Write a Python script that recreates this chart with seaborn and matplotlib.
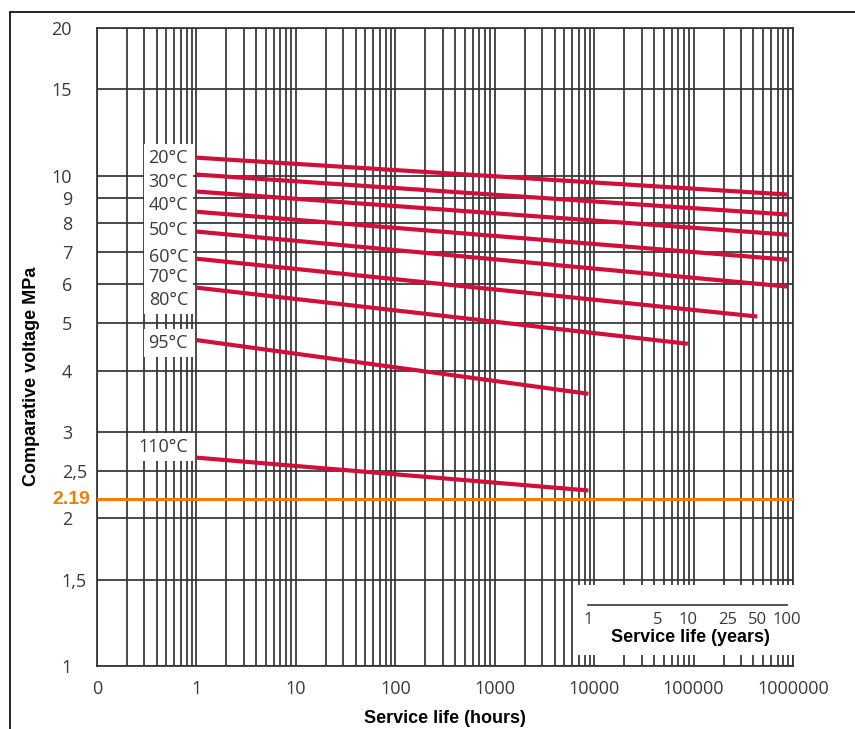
import matplotlib
matplotlib.use("Agg")
import matplotlib.pyplot as plt
import seaborn as sns
import pandas as pd
import numpy as np
from matplotlib.ticker import FixedLocator, NullLocator, LogLocator, NullFormatter
from matplotlib.patches import Rectangle
from matplotlib.lines import Line2D
from matplotlib.font_manager import FontProperties

# ---------------- data ----------------
temps = ["20°C", "30°C", "40°C", "50°C", "60°C", "70°C", "80°C", "95°C", "110°C"]
start_hours = [1, 1, 1, 1, 1, 1, 1, 1, 1]
end_hours = [876000, 876000, 876000, 876000, 876000, 438000, 87600, 8760, 8760]
start_mpa = [10.88, 10.05, 9.28, 8.44, 7.69, 6.77, 5.91, 4.62, 2.66]
end_mpa = [9.15, 8.33, 7.58, 6.74, 5.94, 5.16, 4.54, 3.59, 2.28]
label_mpa = [10.88, 9.72, 8.73, 7.76, 6.83, 6.22, 5.58, 4.56, 2.80]

reference_mpa = 2.19
reference_label = "2.19"

x_ticks = [0.1, 1, 10, 100, 1000, 10000, 100000, 1000000]
x_tick_labels = ["0", "1", "10", "100", "1000", "10000", "100000", "1000000"]
y_ticks = [1, 1.5, 2, 2.5, 3, 4, 5, 6, 7, 8, 9, 10, 15, 20]
y_tick_labels = ["1", "1,5", "2", "2,5", "3", "4", "5", "6", "7", "8", "9", "10", "15", "20"]
year_ticks = [1, 5, 10, 25, 50, 100]
year_tick_labels = ["1", "5", "10", "25", "50", "100"]
hours_per_year = 8760

# ---------------- style ----------------
sns.set_theme(style="white")
plt.rcParams["font.family"] = ["Open Sans", "DejaVu Sans"]

RED = "#d0103a"
ORANGE = "#f08000"
GRID = "#333333"
TXT = "#3a3a3a"
W, H = 855, 729

fig = plt.figure(figsize=(W / 100, H / 100), dpi=100)
fig.patch.set_facecolor("white")
ax = fig.add_axes([97 / W, 1 - 666 / H, 696 / W, 638 / H])

rows = []
for t, sh, eh, sm, em in zip(temps, start_hours, end_hours, start_mpa, end_mpa):
    rows.append({"temp": t, "hours": sh, "mpa": sm})
    rows.append({"temp": t, "hours": eh, "mpa": em})
df = pd.DataFrame(rows)

sns.lineplot(data=df, x="hours", y="mpa", hue="temp", palette=[RED] * len(temps),
             legend=False, ax=ax, linewidth=3.0, zorder=4, solid_capstyle="butt")

ax.set_xscale("log")
ax.set_yscale("log")
ax.set_xlim(0.1, 1e6)
ax.set_ylim(1, 20)

ax.xaxis.set_major_locator(FixedLocator(x_ticks))
ax.set_xticklabels(x_tick_labels)
ax.xaxis.set_minor_locator(LogLocator(base=10, subs=np.arange(2, 10)))
ax.xaxis.set_minor_formatter(NullFormatter())
ax.yaxis.set_major_locator(FixedLocator(y_ticks))
ax.set_yticklabels(y_tick_labels)
ax.yaxis.set_minor_locator(NullLocator())

ax.grid(True, which="both", axis="x", color=GRID, linewidth=1.25, zorder=1)
ax.grid(True, which="major", axis="y", color=GRID, linewidth=1.25, zorder=1)
ax.set_axisbelow(True)
for s in ax.spines.values():
    s.set_color(GRID)
    s.set_linewidth(1.25)
    s.set_visible(True)

ax.tick_params(axis="x", which="both", length=0, pad=10, labelsize=13, labelcolor=TXT)
ax.tick_params(axis="y", which="both", length=0, pad=18, labelsize=13, labelcolor=TXT)

ax.set_xlabel("Service life (hours)", fontsize=13, fontweight="bold",
              family=["Liberation Sans", "DejaVu Sans"], color="black", labelpad=9)
ax.set_ylabel("Comparative voltage MPa", fontsize=13, fontweight="bold",
              family=["Liberation Sans", "DejaVu Sans"], color="black")
ax.yaxis.set_label_coords(-0.082, 0.4545)

# decimal alignment of y tick labels
renderer = fig.canvas.get_renderer()
dw, _, _ = renderer.get_text_width_height_descent("0", FontProperties(family="Open Sans", size=13), ismath=False)
for tk, lab in zip(ax.yaxis.get_major_ticks(), y_tick_labels):
    if "," in lab:
        tk.label1.set_horizontalalignment("left")
        tk.label1.set_x(-dw / 696)

# reference line
ax.axhline(reference_mpa, color=ORANGE, linewidth=2.2, zorder=3)
ax.annotate(reference_label, xy=(0, reference_mpa), xycoords=("axes fraction", "data"),
            xytext=(-5, 0), textcoords="offset points", ha="right", va="center",
            fontsize=14, fontweight="bold", color=ORANGE,
            family=["Liberation Sans", "DejaVu Sans"], annotation_clip=False)

# temperature labels
for t, ly in zip(temps, label_mpa):
    ax.annotate(t, xy=(1, ly), xytext=(-6, 0), textcoords="offset points",
                ha="right", va="center", fontsize=13, color=TXT, zorder=5,
                bbox=dict(boxstyle="square,pad=0.27", fc="white", ec="none"))

# white box for the years scale
fig.add_artist(Rectangle((574 / W, 1 - 655 / H), 223 / W, 70 / H, transform=fig.transFigure,
                         facecolor="white", edgecolor="none", zorder=2))

ay = fig.add_axes([97 / W, 1 - 605 / H, 696 / W, 0.0001], zorder=3)
ay.set_xscale("log")
ay.set_xlim(0.1, 1e6)
ay.patch.set_visible(False)
for side in ["top", "left", "right"]:
    ay.spines[side].set_visible(False)
ay.spines["bottom"].set_color(GRID)
ay.spines["bottom"].set_linewidth(1.2)
yr_hours = [y * hours_per_year for y in year_ticks]
ay.spines["bottom"].set_bounds(yr_hours[0], yr_hours[-1])
ay.set_yticks([])
ay.xaxis.set_major_locator(FixedLocator(yr_hours))
ay.set_xticklabels(year_tick_labels)
ay.xaxis.set_minor_locator(NullLocator())
ay.tick_params(axis="x", direction="in", length=5, width=1.2, color=GRID, pad=5,
               labelsize=12, labelcolor=TXT)
fig.text(690 / W, 1 - 638 / H, "Service life (years)", ha="center", va="center",
         fontsize=13, fontweight="bold", family=["Liberation Sans", "DejaVu Sans"],
         color="black", zorder=4)

# outer frame (top and left)
fig.add_artist(Line2D([10 / W, 1], [1 - 12 / H, 1 - 12 / H], color="black", linewidth=1.2,
                      transform=fig.transFigure))
fig.add_artist(Line2D([10 / W, 10 / W], [0, 1 - 12 / H], color="black", linewidth=1.2,
                      transform=fig.transFigure))

fig.savefig("out.png", dpi=100)
